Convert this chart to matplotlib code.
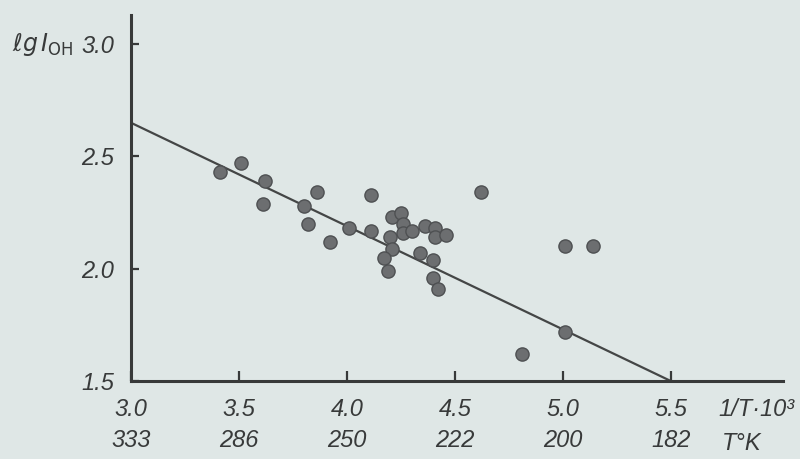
import numpy as np
import matplotlib
matplotlib.use("Agg")
import matplotlib.pyplot as plt

# data: x = 1/T * 10^3, y = lg I_OH
inv_t = [3.41, 3.51, 3.62, 3.61, 3.86, 3.80, 3.82, 3.92, 4.01, 4.11,
         4.11, 4.21, 4.25, 4.26, 4.26, 4.30, 4.36, 4.41, 4.41, 4.46,
         4.20, 4.21, 4.17, 4.19, 4.34, 4.40, 4.40, 4.42, 4.62, 5.01,
         5.14, 5.01, 4.81]
lg_i = [2.43, 2.47, 2.39, 2.29, 2.34, 2.28, 2.20, 2.12, 2.18, 2.33,
        2.17, 2.23, 2.25, 2.20, 2.16, 2.17, 2.19, 2.18, 2.14, 2.15,
        2.14, 2.09, 2.05, 1.99, 2.07, 2.04, 1.96, 1.91, 2.34, 2.10,
        2.10, 1.72, 1.62]

fit_x = [3.0, 5.5]
fit_y = [2.65, 1.5]

x_ticks = [3.0, 3.5, 4.0, 4.5, 5.0, 5.5]
temps = ["333", "286", "250", "222", "200", "182"]
y_ticks = [1.5, 2.0, 2.5, 3.0]

paper = "#dfe7e6"
ink = "#383a3a"

fig = plt.figure(figsize=(8, 4.59), dpi=100, facecolor=paper)
ax = fig.add_axes([131 / 800, 1 - 381 / 459, 652 / 800, 366 / 459])
ax.set_facecolor(paper)

ax.plot(fit_x, fit_y, color="#444646", lw=1.6, zorder=2)
ax.plot(inv_t, lg_i, "o", ms=9.5, mfc="#6c6e70", mec="#4e5052", mew=1.0, zorder=3)

ax.set_xlim(3.0, 6.02)
ax.set_ylim(1.5, 3.13)
for s in ["top", "right"]:
    ax.spines[s].set_visible(False)
for s in ["left", "bottom"]:
    ax.spines[s].set_linewidth(2.2)
    ax.spines[s].set_color(ink)

font = dict(family="Liberation Sans", style="italic", size=17, color=ink)

ax.set_xticks(x_ticks)
ax.set_xticklabels([f"{v:.1f}\n{t}" for v, t in zip(x_ticks, temps)],
                   linespacing=1.45, **font)
ax.set_yticks(y_ticks)
ax.set_yticklabels([f"{v:.1f}" for v in y_ticks], **font)
ax.tick_params(axis="x", direction="in", length=7, width=1.6, color=ink, pad=12)
ax.tick_params(axis="y", direction="in", length=6, width=1.6, color=ink, pad=12)

fig.text(12 / 800, 1 - 45 / 459, r"$\ell g\,I_{\mathrm{OH}}$", fontsize=17,
         color=ink, va="center", ha="left")
fig.text(718 / 800, 1 - 410 / 459, "1/T·10³", ha="left", va="center", **font)
fig.text(722 / 800, 1 - 443 / 459, "T°K", ha="left", va="center", **font)

fig.savefig("out.png", dpi=100, facecolor=paper)
